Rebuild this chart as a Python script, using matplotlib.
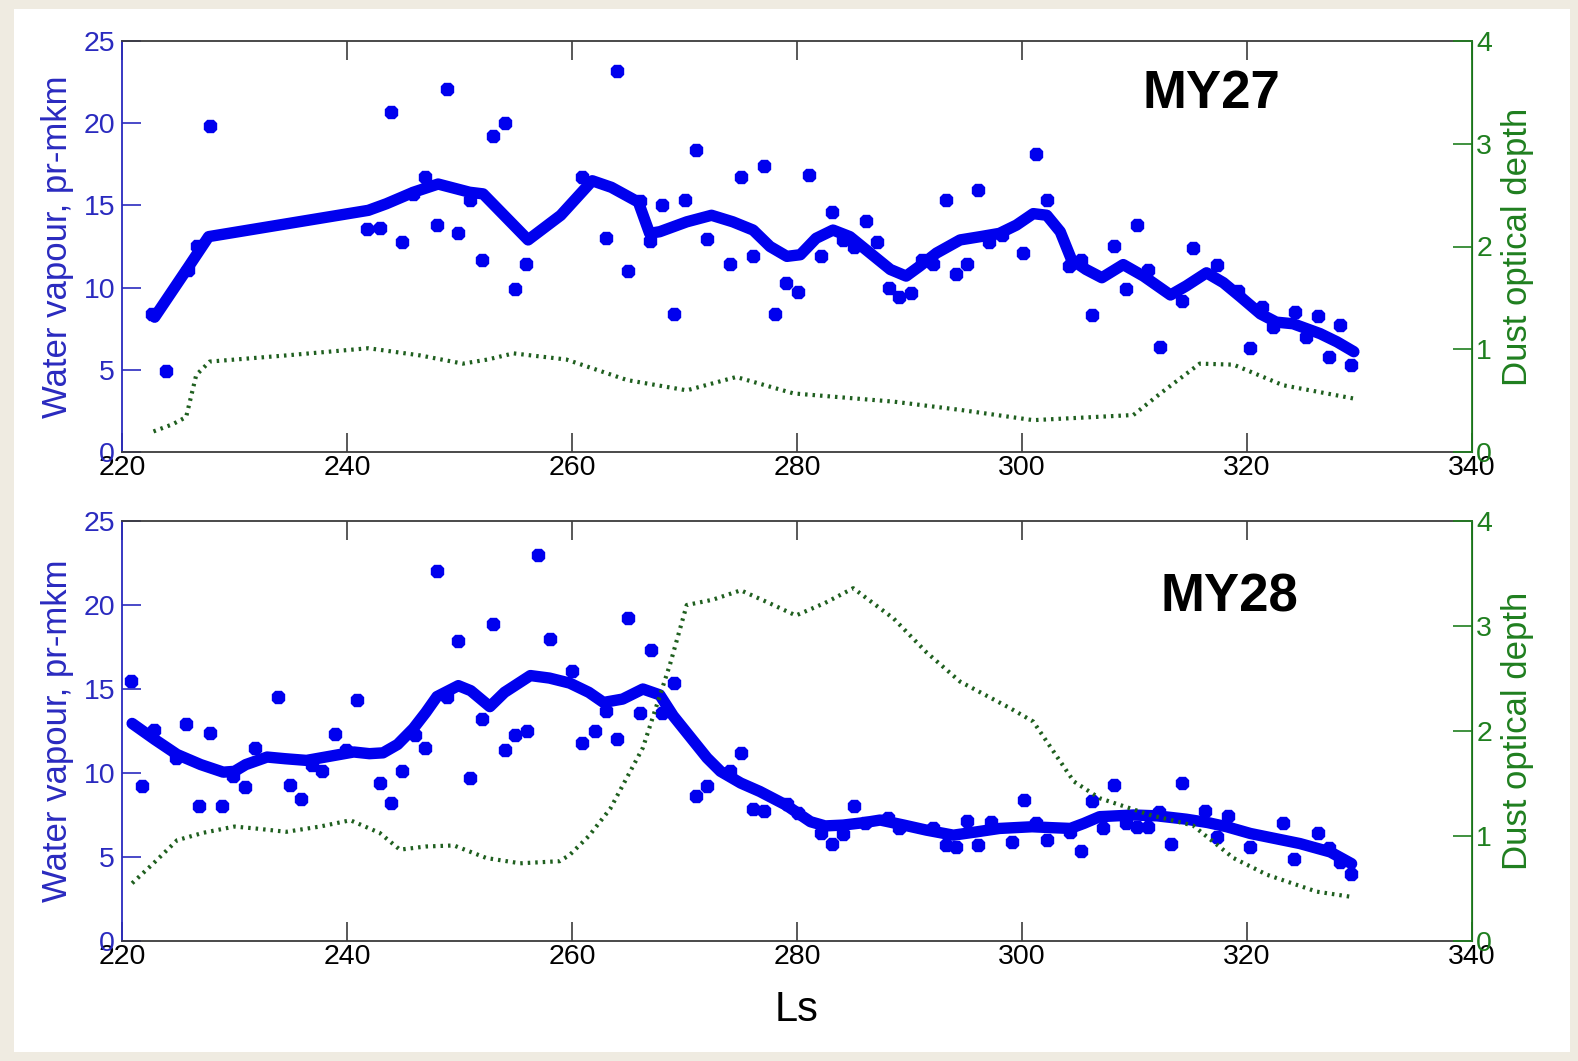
import matplotlib
matplotlib.use("Agg")
import matplotlib.pyplot as plt
from matplotlib.patches import Rectangle

plt.rcParams['font.family'] = ['Liberation Sans', 'DejaVu Sans']

# ---------------- MY27 ----------------
my27_obs_ls = [222.7, 223.9, 225.9, 226.7, 227.8, 241.8, 242.9, 243.9, 244.9, 245.9,
               246.9, 248.0, 248.9, 249.9, 250.9, 252.0, 253.0, 254.0, 254.9, 255.9,
               260.9, 263.0, 264.0, 265.0, 266.0, 266.9, 268.0, 269.1, 270.0, 271.0,
               272.0, 274.0, 275.0, 276.1, 277.1, 278.0, 279.0, 280.1, 281.1, 282.1,
               283.1, 284.1, 285.1, 286.1, 287.1, 288.2, 289.1, 290.1, 291.1, 292.1,
               293.2, 294.1, 295.1, 296.1, 297.1, 298.2, 300.1, 301.2, 302.2, 304.2,
               305.2, 306.2, 308.2, 309.2, 310.2, 311.2, 312.3, 314.2, 315.2, 317.3,
               319.2, 320.3, 321.3, 322.3, 324.3, 325.2, 326.3, 327.3, 328.3, 329.2]
my27_obs_wv = [8.4, 4.9, 11.1, 12.5, 19.8, 13.55, 13.65, 20.7, 12.8, 15.7,
               16.75, 13.8, 22.1, 13.35, 15.35, 11.7, 19.2, 20.0, 9.9, 11.45,
               16.7, 13.0, 23.2, 11.0, 15.25, 12.85, 15.0, 8.4, 15.3, 18.4,
               12.95, 11.45, 16.75, 11.95, 17.4, 8.4, 10.3, 9.75, 16.85, 11.9,
               14.6, 12.9, 12.45, 14.05, 12.8, 9.95, 9.4, 9.7, 11.7, 11.45,
               15.35, 10.85, 11.45, 15.95, 12.75, 13.2, 12.1, 18.15, 15.35, 11.3,
               11.7, 8.35, 12.55, 9.9, 13.8, 11.05, 6.4, 9.2, 12.4, 11.4,
               9.8, 6.3, 8.85, 7.6, 8.5, 7.0, 8.25, 5.75, 7.7, 5.3]

my27_fit_ls = [222.9, 225.9, 227.7, 241.9, 243.5, 245.9, 248.1, 250.9, 252.1, 256.1,
               259.0, 261.8, 263.5, 265.9, 266.9, 267.8, 270.2, 272.4, 274.3, 276.1,
               277.6, 279.1, 280.3, 281.7, 283.2, 284.7, 286.5, 288.3, 289.7, 290.9,
               292.4, 294.5, 296.3, 298.0, 299.5, 301.0, 302.2, 303.4, 304.4, 305.7,
               307.1, 309.0, 310.8, 313.2, 314.6, 316.4, 317.9, 319.4, 321.2, 322.6,
               324.1, 326.5, 328.0, 329.5]
my27_fit_wv = [8.2, 11.25, 13.1, 14.7, 15.1, 15.8, 16.3, 15.8, 15.7, 12.9,
               14.4, 16.5, 16.1, 15.2, 13.3, 13.4, 14.0, 14.4, 14.0, 13.5,
               12.5, 11.9, 12.0, 13.0, 13.5, 13.1, 12.1, 11.1, 10.7, 11.3,
               12.1, 12.9, 13.1, 13.3, 13.8, 14.5, 14.4, 13.4, 11.7, 11.1,
               10.6, 11.4, 10.7, 9.55, 10.1, 10.9, 10.3, 9.45, 8.4, 7.9,
               7.8, 7.2, 6.7, 6.1]

my27_dust_ls = [222.8, 224.5, 225.7, 226.6, 227.8, 234.6, 241.9, 246.5, 250.3, 252.5,
                254.8, 259.5, 264.9, 270.2, 274.6, 279.7, 288.6, 294.5, 301.0, 309.9,
                312.3, 315.8, 318.8, 323.2, 329.5]
my27_dust_tau = [0.20, 0.27, 0.34, 0.75, 0.88, 0.94, 1.01, 0.94, 0.86, 0.90,
                 0.96, 0.90, 0.70, 0.60, 0.73, 0.57, 0.49, 0.41, 0.31, 0.36,
                 0.57, 0.86, 0.85, 0.65, 0.52]

# ---------------- MY28 ----------------
my28_obs_ls = [220.8, 221.8, 222.8, 224.8, 225.7, 226.8, 227.8, 228.9, 229.9, 230.9,
               231.8, 233.9, 234.9, 235.9, 236.9, 237.8, 238.9, 239.9, 240.9, 242.9,
               243.9, 244.9, 246.0, 246.9, 248.0, 248.9, 249.9, 250.9, 252.0, 253.0,
               254.0, 254.9, 256.0, 257.0, 258.0, 260.0, 260.9, 262.0, 263.0, 264.0,
               265.0, 266.0, 267.0, 268.0, 269.1, 271.0, 272.0, 274.0, 275.0, 276.1,
               277.1, 279.1, 280.1, 282.1, 283.1, 284.1, 285.1, 286.0, 288.1, 289.1,
               292.1, 293.2, 294.1, 295.1, 296.1, 297.2, 299.1, 300.2, 301.2, 302.2,
               304.3, 305.2, 306.2, 307.2, 308.2, 309.2, 310.2, 311.2, 312.2, 313.2,
               314.2, 316.3, 317.3, 318.3, 320.3, 323.2, 324.2, 326.3, 327.3, 328.3,
               329.2]
my28_obs_wv = [15.5, 9.2, 12.55, 10.9, 12.9, 8.05, 12.4, 8.05, 9.8, 9.15,
               11.5, 14.55, 9.3, 8.45, 10.5, 10.1, 12.35, 11.35, 14.35, 9.4,
               8.2, 10.1, 12.25, 11.5, 22.0, 14.55, 17.85, 9.7, 13.2, 18.85,
               11.35, 12.25, 12.5, 23.0, 18.0, 16.1, 11.8, 12.5, 13.7, 12.0,
               19.2, 13.6, 17.3, 13.55, 15.35, 8.65, 9.25, 10.1, 11.2, 7.85,
               7.75, 8.15, 7.6, 6.4, 5.75, 6.35, 8.05, 7.0, 7.3, 6.7,
               6.7, 5.7, 5.6, 7.15, 5.7, 7.1, 5.9, 8.4, 7.0, 6.0,
               6.5, 5.35, 8.35, 6.7, 9.3, 7.0, 6.8, 6.8, 7.65, 5.75,
               9.4, 7.75, 6.2, 7.45, 5.6, 7.05, 4.9, 6.45, 5.55, 4.7,
               4.0]

my28_fit_ls = [220.9, 222.9, 224.9, 227.0, 229.0, 230.0, 231.0, 232.9, 234.5, 236.4,
               238.5, 240.6, 242.0, 243.2, 244.5, 245.9, 247.0, 248.0, 249.9, 251.0,
               252.7, 254.0, 256.3, 258.0, 259.8, 261.5, 262.8, 264.5, 266.3, 267.8,
               269.0, 270.8, 272.0, 273.2, 275.0, 276.7, 279.0, 281.2, 282.5, 284.1,
               286.0, 287.4, 289.5, 291.5, 293.9, 296.0, 298.0, 300.9, 302.5, 304.3,
               305.5, 306.9, 309.9, 312.0, 314.6, 316.5, 318.2, 320.3, 322.5, 324.7,
               327.4, 329.3]
my28_fit_wv = [12.95, 12.0, 11.1, 10.5, 10.05, 10.1, 10.5, 10.95, 10.85, 10.75,
               11.0, 11.25, 11.15, 11.2, 11.7, 12.65, 13.6, 14.55, 15.2, 14.9,
               13.95, 14.8, 15.8, 15.65, 15.35, 14.8, 14.2, 14.4, 15.0, 14.65,
               13.4, 11.9, 10.9, 10.1, 9.4, 8.9, 8.1, 7.1, 6.85, 6.9,
               7.05, 7.2, 6.9, 6.6, 6.3, 6.5, 6.7, 6.8, 6.75, 6.7,
               7.0, 7.4, 7.5, 7.45, 7.25, 7.05, 6.8, 6.4, 6.1, 5.8,
               5.3, 4.6]

my28_dust_ls = [220.9, 222.8, 224.9, 227.2, 230.0, 232.0, 234.6, 237.6, 240.3, 242.9,
                244.7, 247.0, 249.5, 252.4, 255.4, 258.9, 259.8, 261.5, 263.4, 266.3,
                268.7, 270.2, 272.5, 275.0, 277.5, 279.9, 282.5, 285.0, 288.6, 291.5,
                294.5, 298.9, 301.0, 304.6, 306.9, 311.4, 315.2, 318.8, 321.8, 326.2,
                329.3]
my28_dust_tau = [0.55, 0.74, 0.96, 1.03, 1.09, 1.07, 1.04, 1.09, 1.15, 1.03,
                 0.87, 0.90, 0.91, 0.79, 0.74, 0.76, 0.82, 1.00, 1.26, 1.84,
                 2.63, 3.20, 3.25, 3.34, 3.22, 3.10, 3.22, 3.36, 3.07, 2.75,
                 2.47, 2.22, 2.09, 1.52, 1.36, 1.20, 1.10, 0.79, 0.63, 0.47,
                 0.42]

x_ticks = [220, 240, 260, 280, 300, 320, 340]
wv_ticks = [0, 5, 10, 15, 20, 25]
tau_ticks = [0, 1, 2, 3, 4]

BLUE = '#0000ee'
WV_AXIS = '#2a2abf'
TAU_AXIS = '#1f7f1f'
DUST = '#1f5f1f'
FRAME = '#3c3c3c'
TICK_SIZE = 20.5

W, H = 1578, 1061
fig = plt.figure(figsize=(W / 100, H / 100), dpi=100, facecolor='#efebe1')
fig.patches.append(Rectangle((14 / W, 9 / H), (1570 - 14) / W, (1052 - 9) / H,
                             transform=fig.transFigure, facecolor='white',
                             edgecolor='none', zorder=-10))


def panel(bottom_px, top_px, obs_ls, obs_wv, fit_ls, fit_wv, dust_ls, dust_tau, tag, tag_xy):
    left_px, right_px = 122, 1472
    ax = fig.add_axes([left_px / W, 1 - bottom_px / H,
                       (right_px - left_px) / W, (bottom_px - top_px) / H])
    ax.set_facecolor('white')
    ax.plot(fit_ls, fit_wv, color=BLUE, lw=8.2, solid_capstyle='round',
            solid_joinstyle='round', zorder=2)
    ax.plot(obs_ls, obs_wv, linestyle='none', marker='8', ms=9.5, color=BLUE,
            mec=BLUE, zorder=3)
    ax.set_xlim(220, 340)
    ax.set_ylim(0, 25)
    ax.set_xticks(x_ticks)
    ax.set_yticks(wv_ticks)
    ax.tick_params(axis='x', direction='in', length=14, width=1.2, color=FRAME,
                   top=True, labelsize=TICK_SIZE, labelcolor='black', pad=2)
    ax.tick_params(axis='y', direction='in', length=14, width=1.2, color=WV_AXIS,
                   right=True, labelsize=TICK_SIZE, labelcolor=WV_AXIS, pad=5)
    for s in ('top', 'bottom'):
        ax.spines[s].set_color(FRAME)
        ax.spines[s].set_linewidth(1.3)
    ax.spines['left'].set_color(WV_AXIS)
    ax.spines['left'].set_linewidth(1.3)

    axr = ax.twinx()
    axr.plot(dust_ls, dust_tau, color=DUST, lw=3.0,
             linestyle=(0, (0.6, 1.2)), dash_capstyle='butt', zorder=4)
    axr.set_ylim(0, 4)
    axr.set_yticks(tau_ticks)
    axr.tick_params(axis='y', direction='in', length=14, width=1.2, color=TAU_AXIS,
                    labelsize=TICK_SIZE, labelcolor=TAU_AXIS, pad=3)
    for s in ('top', 'bottom', 'left'):
        axr.spines[s].set_visible(False)
    axr.spines['right'].set_color(TAU_AXIS)
    axr.spines['right'].set_linewidth(1.3)

    mid = 1 - (top_px + bottom_px) / 2 / H
    fig.text(58 / W, mid, 'Water vapour, pr-mkm', rotation=90, ha='center',
             va='center', fontsize=25, color=WV_AXIS)
    fig.text(1517 / W, mid, 'Dust optical depth', rotation=90, ha='center',
             va='center', fontsize=25, color=TAU_AXIS)
    fig.text(tag_xy[0] / W, 1 - tag_xy[1] / H, tag, ha='center', va='baseline',
             fontsize=38, fontweight='bold', color='black')
    return ax


panel(452, 41, my27_obs_ls, my27_obs_wv, my27_fit_ls, my27_fit_wv,
      my27_dust_ls, my27_dust_tau, 'MY27', (1211, 108))
panel(941, 521, my28_obs_ls, my28_obs_wv, my28_fit_ls, my28_fit_wv,
      my28_dust_ls, my28_dust_tau, 'MY28', (1229, 612))

fig.text(797 / W, 1 - 1021 / H, 'Ls', ha='center', va='baseline', fontsize=30,
         color='black')

fig.savefig('out.png', dpi=100, facecolor=fig.get_facecolor())
